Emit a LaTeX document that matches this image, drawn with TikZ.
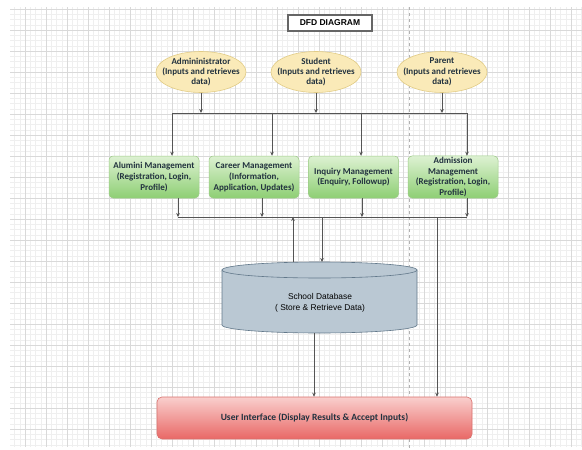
\documentclass[tikz,border=0pt]{standalone}
\usepackage{fontspec}
\setmainfont{Carlito}
\newfontfamily\arialf{Liberation Sans}
\usetikzlibrary{shapes.geometric,arrows.meta}
\definecolor{txt}{HTML}{22323F}
\definecolor{gridmin}{HTML}{EFEFEF}
\definecolor{gridmaj}{HTML}{D9D9D9}
\definecolor{ellfill}{HTML}{FAEAB8}
\definecolor{elldraw}{HTML}{E2CC86}
\definecolor{gtop}{HTML}{DDF1D2}
\definecolor{gbot}{HTML}{8ECF74}
\definecolor{gdraw}{HTML}{9CCB86}
\definecolor{rtop}{HTML}{F9CFCD}
\definecolor{rbot}{HTML}{E96866}
\definecolor{rdraw}{HTML}{D9706C}
\definecolor{dbfill}{HTML}{BAC8D3}
\definecolor{dbdraw}{HTML}{62788A}
\definecolor{conn}{HTML}{555555}
\tikzset{
  actor/.style={ellipse, fill=ellfill, draw=elldraw, line width=0.6pt,
    minimum width=90pt, minimum height=41pt, inner sep=0pt},
  actortext/.style={align=center, inner sep=0pt,
    text=txt, font=\fontsize{9}{10.4}\selectfont\bfseries},
  proc/.style={rectangle, rounded corners=4pt, top color=gtop, bottom color=gbot,
    draw=gdraw, line width=0.5pt, minimum width=90pt, minimum height=42pt,
    inner sep=1pt, align=center, text=txt, font=\fontsize{9}{10.8}\selectfont\bfseries},
  uibox/.style={rectangle, rounded corners=5pt, top color=rtop, bottom color=rbot,
    draw=rdraw, line width=0.6pt, minimum width=315pt, minimum height=42pt,
    text=txt, font=\fontsize{9.5}{11}\selectfont\bfseries},
  titlebox/.style={rectangle, draw=black!60, line width=1.2pt, fill=white,
    minimum width=84pt, minimum height=16pt, inner sep=0pt,
    font=\arialf\fontsize{8.5}{10}\selectfont\bfseries},
  conline/.style={draw=conn, line width=0.7pt},
  arr/.style={conline, -{Stealth[length=4pt,width=3.6pt]}},
}
\begin{document}
\begin{tikzpicture}[x=1pt,y=-1pt]
\useasboundingbox (0,0) rectangle (582,450);
\fill[white] (0,0) rectangle (582,450);
% grid background
\begin{scope}
\clip (10,7) rectangle (582,446);
\foreach \i in {0,...,110} {
  \draw[gridmin, line width=0.4pt] ({4+5.25*\i},0) -- ({4+5.25*\i},450);
  \draw[gridmin, line width=0.4pt] (0,{9+5.25*\i}) -- (582,{9+5.25*\i});
}
\foreach \i in {0,...,28} {
  \draw[gridmaj, line width=0.5pt] ({4+21*\i},0) -- ({4+21*\i},450);
  \draw[gridmaj, line width=0.5pt] (0,{9+21*\i}) -- (582,{9+21*\i});
}
\end{scope}
% page break line
\draw[black!30, dashed, line width=0.6pt] (409,7) -- (409,450);

% title
\node[titlebox] (title) at (330,23) {DFD DIAGRAM};

% external entities
\node[actor] (admin) at (201,72) {};
\node[actortext] (admintext) at (admin) {Admininistrator\\(Inputs and retrieves\\data)};
\node[actor] (student) at (316,72) {};
\node[actortext] (studenttext) at (student) {Student\\(Inputs and retrieves\\data)};
\node[actor] (parent) at (442,72) {};
\node[actortext] (parenttext) at (parent) {Parent\\(Inputs and retrieves\\data)};

% processes
\node[proc] (alumni) at (154,177) {Alumini Management\\(Registration, Login,\\Profile)};
\node[proc] (career) at (254,177) {Career Management\\(Information,\\Application, Updates)};
\node[proc] (inquiry) at (353.5,177) {Inquiry Management\\(Enquiry, Followup)};
\node[proc] (admission) at (453,177) {Admission\\Management\\(Registration, Login,\\Profile)};

% database (cylinder)
\node[minimum width=195pt, minimum height=71pt, inner sep=0pt] (db) at (319.5,297.5) {};
\filldraw[fill=dbfill, draw=dbdraw, line width=0.6pt]
  (222,270) -- (222,325) arc[start angle=180, end angle=0, x radius=97.5, y radius=8] -- (417,270) -- cycle;
\filldraw[fill=dbfill, draw=dbdraw, line width=0.6pt] (319.5,270) ellipse[x radius=97.5, y radius=8];
\node[align=center, font=\arialf\fontsize{8.4}{10.5}\selectfont, text=black] (dbtext) at (320,303)
  {School Database\\( Store \& Retrieve Data)};

% user interface
\node[uibox] (ui) at (314.5,418) {User Interface (Display Results \& Accept Inputs)};

% bus coordinates
\coordinate (busT) at (172,113);
\coordinate (t1) at (172,113);
\coordinate (t2) at (272,113);
\coordinate (t3) at (361,113);
\coordinate (t4) at (467,113);
\coordinate (b1) at (178,217);
\coordinate (b2) at (262,217);
\coordinate (b3) at (362,217);
\coordinate (b4) at (467,217);
\coordinate (bup) at (293,217);
\coordinate (bdown) at (322,217);
\coordinate (bui) at (437,217);
\coordinate (dbtop) at (322,262);
\coordinate (dbtopL) at (293,262);
\coordinate (dbbot) at (314,333);

% entity -> top bus
\draw[arr] (admin.south) -- (admin.south |- busT);
\draw[arr] (student.south) -- (student.south |- busT);
\draw[arr] (parent.south) -- (parent.south |- busT);
\draw[conline] (t1) -- (t4);
% top bus -> processes
\draw[arr] (t1) -- (t1 |- alumni.north);
\draw[arr] (t2) -- (t2 |- career.north);
\draw[arr] (t3) -- (t3 |- inquiry.north);
\draw[arr] (t4) -- (t4 |- admission.north);
% processes -> lower bus
\draw[arr] (b1 |- alumni.south) -- (b1);
\draw[arr] (b2 |- career.south) -- (b2);
\draw[arr] (b3 |- inquiry.south) -- (b3);
\draw[arr] (b4 |- admission.south) -- (b4);
\draw[conline] (b1) -- (b4);
% database exchange
\draw[arr] (dbtopL) -- (bup);
\draw[arr] (bdown) -- (dbtop);
% to user interface
\draw[arr] (dbbot) -- (dbbot |- ui.north);
\draw[arr] (bui) -- (bui |- ui.north);
\end{tikzpicture}
\end{document}
